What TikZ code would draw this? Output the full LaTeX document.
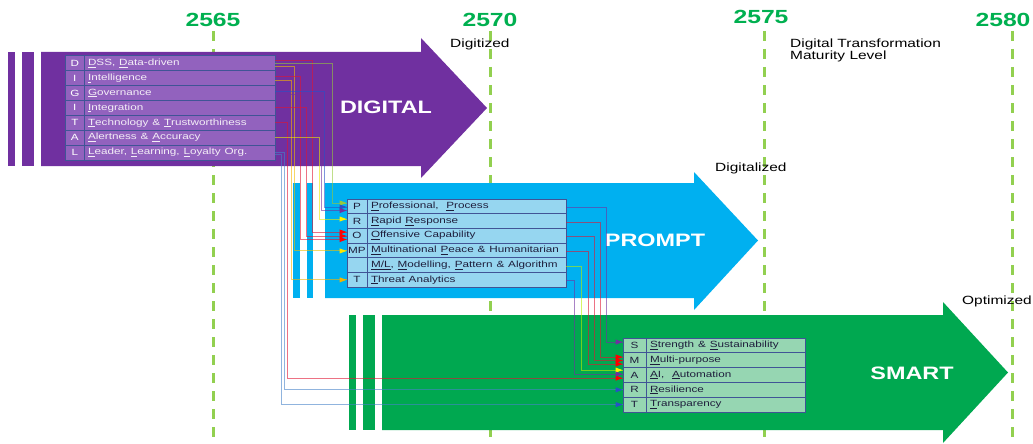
\documentclass[tikz,border=0pt]{standalone}
\usepackage{fontspec}
\setmainfont{Liberation Sans}
\usepackage{graphicx}
\usetikzlibrary{arrows.meta}
\definecolor{purp}{RGB}{112,48,160}
\definecolor{purpcell}{RGB}{146,98,190}
\definecolor{cellborder}{RGB}{64,84,150}
\definecolor{skyb}{RGB}{0,176,240}
\definecolor{skycell}{RGB}{150,214,240}
\definecolor{grn}{RGB}{0,168,80}
\definecolor{grncell}{RGB}{150,214,178}
\definecolor{yrgreen}{RGB}{0,176,80}
\definecolor{dashgreen}{RGB}{146,208,80}
\definecolor{celltext}{RGB}{30,30,60}
\definecolor{lnred}{RGB}{225,20,50}
\definecolor{lnolive}{RGB}{150,200,60}
\definecolor{lnorange}{RGB}{240,190,0}
\definecolor{lngold}{RGB}{245,180,0}
\definecolor{lnblue}{RGB}{40,80,200}
\definecolor{lnpurple}{RGB}{112,48,160}
\definecolor{lnyellow}{RGB}{235,235,0}
\definecolor{lnlblue}{RGB}{70,130,200}
\newcommand{\sx}[1]{\scalebox{1.3}[1]{#1}}
\newcommand{\ul}[1]{\underline{#1}}
\newcommand{\lnk}[7]{%
  \draw[conn, draw=#1] ([yshift=#4pt]#3.east) -- ++(#5,0) |- ([yshift=#7pt]#6.west);
  \fill[#2] ([yshift=#7pt]#6.west) -- ++(-7,-2.6) -- ++(0,5.2) -- cycle;
}
\begin{document}
\begin{tikzpicture}[x=1pt,y=-1pt,
  year/.style={text=yrgreen, font=\fontsize{19}{22}\selectfont\bfseries, inner sep=0},
  small/.style={font=\fontsize{11.9}{10.8}\selectfont, inner sep=0, align=left, anchor=west},
  big/.style={text=white, font=\fontsize{18}{20}\selectfont\bfseries, inner sep=0},
  yrline/.style={draw=dashgreen, line width=3pt, dash pattern=on 10pt off 8pt},
  cellbase/.style={rectangle, draw=cellborder, line width=0.9pt, inner ysep=0pt,
     font=\fontsize{9}{10}\selectfont},
  dlet/.style={cellbase, fill=purpcell, text=white, minimum width=18.3pt, minimum height=14.9pt, inner xsep=0pt},
  dtxt/.style={cellbase, fill=purpcell, text=white!92!purp, text width=183pt, inner xsep=4pt, minimum height=14.9pt, align=left},
  plet/.style={cellbase, fill=skycell, text=celltext, minimum width=20pt, minimum height=14.7pt, inner xsep=0pt},
  ptxt/.style={cellbase, fill=skycell, text=celltext, text width=191pt, inner xsep=4pt, minimum height=14.7pt, align=left},
  slet/.style={cellbase, fill=grncell, text=celltext, minimum width=23pt, minimum height=14.8pt, inner xsep=0pt},
  stxt/.style={cellbase, fill=grncell, text=celltext, text width=151pt, inner xsep=4pt, minimum height=14.8pt, align=left},
  conn/.style={line width=1pt, draw opacity=0.6}
]
\useasboundingbox (0,0) rectangle (1033,444);
\fill[white] (0,0) rectangle (1033,444);

% year dashed lines
\draw[yrline] (213,31) -- (213,444);
\draw[yrline] (490,31) -- (490,444);
\draw[yrline] (764,31) -- (764,444);
\draw[yrline] (1012,31) -- (1012,444);

% year labels
\node[year] (y65) at (213,20) {\sx{2565}};
\node[year] (y70) at (490,20) {\sx{2570}};
\node[year] (y75) at (761,17) {\sx{2575}};
\node[year] (y80) at (1003,20) {\sx{2580}};

% DIGITAL arrow
\fill[purp] (8,52) rectangle (15,166);
\fill[purp] (22,52) rectangle (34,166);
\fill[purp] (41,52) -- (421,52) -- (421,38) -- (487,108) -- (421,178) -- (421,166) -- (41,166) -- cycle;
% PROMPT arrow
\fill[skyb] (293,183) rectangle (300,298);
\fill[skyb] (307,183) rectangle (313,298);
\fill[skyb] (325,183) -- (694,183) -- (694,172) -- (758,240.5) -- (694,310) -- (694,298) -- (325,298) -- cycle;
% SMART arrow
\fill[grn] (349,315) rectangle (356,430);
\fill[grn] (363,315) rectangle (375,430);
\fill[grn] (382,315) -- (943,315) -- (943,302) -- (1008,372.5) -- (943,443) -- (943,430) -- (382,430) -- cycle;

% labels
\node[big] (lDig) at (386,107) {\sx{DIGITAL}};
\node[big] (lPro) at (655,240) {\sx{PROMPT}};
\node[big] (lSma) at (912,373) {\sx{SMART}};
\node[small] (lDz) at (450,44) {\sx{Digitized}};
\node[small] (lDTM) at (790,50.5) {\sx{Digital Transformation}\\\sx{Maturity Level}};
\node[small] (lDl) at (715,168) {\sx{Digitalized}};
\node[small] (lOp) at (962,301) {\sx{Optimized}};

% DIGITAL table
\foreach \i/\L/\T in {1/D/{\ul{D}SS, \ul{D}ata-driven},
  2/I/{\ul{I}ntelligence},
  3/G/{\ul{G}overnance},
  4/I/{\ul{I}ntegration},
  5/T/{\ul{T}echnology \& \ul{T}rustworthiness},
  6/A/{\ul{A}lertness \& \ul{A}ccuracy},
  7/L/{\ul{L}eader, \ul{L}earning, \ul{L}oyalty Org.}}{
  \node[dlet] (dl\i) at (74.85,{55.7+14.9*(\i-0.5)}) {\sx{\L}};
  \node[dtxt] (dt\i) at (179.5,{55.7+14.9*(\i-0.5)}) {\sx{\T}};
}
% PROMPT table
\foreach \i/\L/\T in {1/P/{\ul{P}rofessional,\ \ \ul{P}rocess},
  2/R/{\ul{R}apid \ul{R}esponse},
  3/O/{\ul{O}ffensive Capability},
  4/MP/{\ul{M}ultinational \ul{P}eace \& Humanitarian},
  5/{}/{\ul{M/L}, \ul{M}odelling, \ul{P}attern \& Algorithm},
  6/T/{\ul{T}hreat Analytics}}{
  \node[plet] (pl\i) at (357,{199+14.7*(\i-0.5)}) {\sx{\L}};
  \node[ptxt] (pt\i) at (466.5,{199+14.7*(\i-0.5)}) {\sx{\T}};
}
% SMART table
\foreach \i/\L/\T in {1/S/{\ul{S}trength \& \ul{S}ustainability},
  2/M/{\ul{M}ulti-purpose},
  3/A/{\ul{A}I,\ \ \ul{A}utomation},
  4/R/{\ul{R}esilience},
  5/T/{\ul{T}ransparency}}{
  \node[slet] (sl\i) at (634.5,{338+14.8*(\i-0.5)}) {\sx{\L}};
  \node[stxt] (st\i) at (725.5,{338+14.8*(\i-0.5)}) {\sx{\T}};
}

% DIGITAL -> PROMPT / SMART
\lnk{lnred}{red}{dt1}{2.15}{37}{pl3}{3.75}
\lnk{lnolive}{lnolive}{dt1}{0}{57}{pl1}{3.35}
\lnk{lnorange}{yellow!90!orange}{dt1}{-3.85}{19}{pl4}{-0.5}
\lnk{lnred}{red}{dt2}{2}{25}{pl3}{-3.75}
\lnk{lngold}{lngold}{dt2}{-2}{16}{pl6}{0}
\lnk{lnblue}{lnblue}{dt3}{1}{49}{pl1}{-0.65}
\lnk{lnpurple}{lnpurple}{dt3}{-1.5}{46}{pl1}{-4.15}
\lnk{lnred}{red}{dt4}{0}{31}{pl3}{-0.25}
\lnk{lnred}{red}{dt5}{0}{12}{sl3}{-3.1}
\lnk{lnyellow}{yellow}{dt6}{0}{44}{pl2}{2}
\lnk{lnlblue}{lnblue}{dt7}{0.5}{9}{sl4}{0}
\lnk{lnlblue}{lnblue}{dt7}{-2}{6}{sl5}{0}
% PROMPT -> SMART
\lnk{lnpurple}{lnpurple}{pt1}{-0.65}{40}{sl1}{3.4}
\lnk{lnred}{red}{pt2}{-1}{34}{sl2}{3.2}
\lnk{lnred}{red}{pt3}{-0.75}{28}{sl2}{-0.3}
\lnk{lnred}{red}{pt4}{-1.5}{22}{sl2}{-3.8}
\lnk{lnyellow!80!green}{yellow}{pt5}{-0.85}{15}{sl3}{4.9}
\lnk{lnpurple}{lnpurple}{pt6}{-0.65}{8}{sl3}{0.9}
\end{tikzpicture}
\end{document}
